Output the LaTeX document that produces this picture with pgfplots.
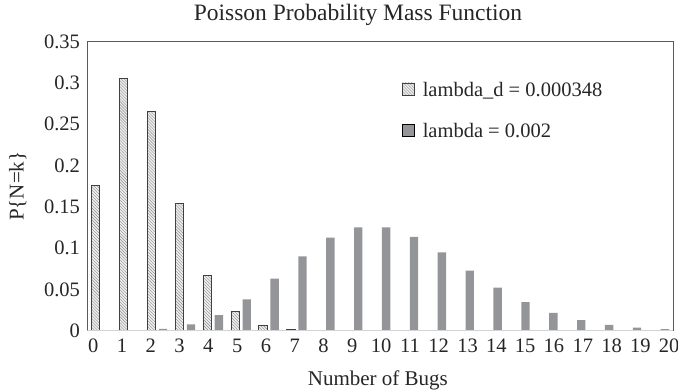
\documentclass[border=0pt]{standalone}
\usepackage{fontspec}
\setmainfont{Liberation Serif}
\usepackage{pgfplots}
\pgfplotsset{compat=1.18}
\usetikzlibrary{patterns}
\definecolor{barg}{RGB}{147,149,152}
\definecolor{axisdark}{RGB}{90,90,90}
\definecolor{axislight}{RGB}{210,210,210}
\definecolor{hatchfill}{RGB}{238,238,238}
\definecolor{hatchline}{RGB}{140,140,140}
\begin{document}
\begin{tikzpicture}
\begin{axis}[
  at={(0,0)}, anchor=south west,
  scale only axis, width=585.5bp, height=289bp,
  xmin=-0.5, xmax=20.5, ymin=0, ymax=0.35,
  ytick={0,0.05,0.1,0.15,0.2,0.25,0.3,0.35},
  yticklabels={0,0.05,0.1,0.15,0.2,0.25,0.3,0.35},
  xtick={-0.298,0.735,1.768,2.801,3.834,4.867,5.900,6.933,7.966,8.999,10.032,11.065,12.098,13.131,14.164,15.197,16.230,17.263,18.296,19.329,20.362},
  xticklabels={0,1,2,3,4,5,6,7,8,9,10,11,12,13,14,15,16,17,18,19,20},
  major tick length=0,
  ticklabel style={font=\fontsize{20.5bp}{24bp}\selectfont, text=black!85},
  xticklabel style={yshift=-5bp},
  yticklabel style={xshift=-4bp},
  /pgf/number format/assume math mode=true,
  axis line style={draw=axisdark, line width=0.8bp},
  title={Poisson Probability Mass Function},
  title style={font=\fontsize{23.5bp}{27bp}\selectfont, at={(axis description cs:0.462,1.051)}, anchor=base, text=black!85},
  xlabel={Number of Bugs},
  xlabel style={font=\fontsize{21bp}{25bp}\selectfont, at={(axis description cs:0.496,-0.171)}, anchor=center, text=black!85},
  ylabel={P\{N=k\}},
  ylabel style={font=\fontsize{21bp}{25bp}\selectfont, at={(axis description cs:-0.119,0.5)}, anchor=center, text=black!85},
  legend style={at={(0.532,0.875)}, anchor=north west, draw=none, fill=none,
    font=\fontsize{20.5bp}{24bp}\selectfont, text=black!85, row sep=22bp,
    legend cell align=left},
  legend image code/.code={\draw[#1] (0bp,-5bp) rectangle (12bp,7bp);},
]
\addplot[ybar, bar width=0.3, bar shift=-0.21, draw=black!75, line width=0.6bp,
  fill=hatchfill, postaction={pattern=north west lines, pattern color=hatchline}]
  coordinates {(0,0.1755) (1,0.3053) (2,0.2656) (3,0.1540) (4,0.0670) (5,0.0233) (6,0.0068) (7,0.0017)};
\addlegendentry{\hspace{6bp}lambda\_d = 0.000348}
\addplot[ybar, bar width=0.3, bar shift=0.21, draw=none, fill=barg]
  coordinates {(0,0.00005) (1,0.0005) (2,0.0023) (3,0.0076) (4,0.0189) (5,0.0378) (6,0.0631) (7,0.0901) (8,0.1126) (9,0.1251) (10,0.1251) (11,0.1137) (12,0.0948) (13,0.0729) (14,0.0521) (15,0.0347) (16,0.0217) (17,0.0128) (18,0.0071) (19,0.0037) (20,0.0019)};
\addlegendentry{\hspace{6bp}lambda = 0.002}
\addplot[ybar, bar width=0.3, bar shift=-0.21, draw=black!25, line width=0.6bp, fill=hatchfill, forget plot]
  coordinates {(8,0.0004) (9,0.0001) (10,0.00002) (11,0.000003) (12,0.0000004)};
\draw[axislight, line width=1.6bp] (rel axis cs:0,0) -- (rel axis cs:1,0);
\end{axis}
\pgfresetboundingbox
\path[use as bounding box] (-87.5bp,-60.3bp) rectangle (590.5bp,330.7bp);
\end{tikzpicture}
\end{document}
